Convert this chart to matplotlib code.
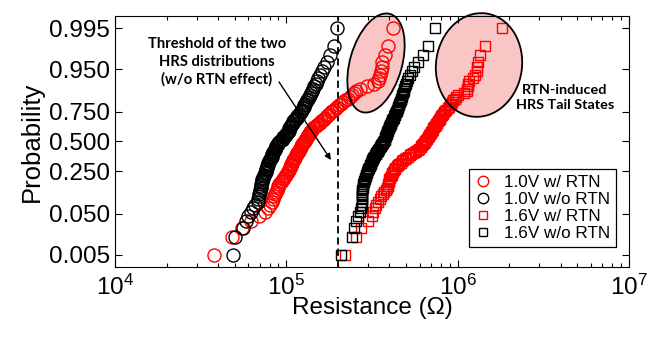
import numpy as np
import matplotlib
matplotlib.use('Agg')
import matplotlib.pyplot as plt
from matplotlib.patches import Ellipse
from statistics import NormalDist

# Resistance values (kOhm), sorted, 100 devices per distribution
r_10_rtn = [38,48,55,62,69,75,78,80,83,84,85,86,87,88,89,90,91,93,94,95,97,98,99,101,102,103,104,105,106,107,
            107,108,109,110,111,112,113,114,115,116,117,118,119,120,121,122,123,124,125,127,128,129,130,132,133,134,
            136,137,138,140,141,143,145,148,151,154,157,160,163,166,169,172,175,178,182,185,189,194,198,204,209,215,
            221,228,235,243,249,256,269,295,326,341,346,353,358,362,363,377,390,420]
r_10_nortn = [49,50,56,58,60,62,64,66,68,68,69,69,70,70,71,71,71,72,72,72,73,74,74,75,76,76,76,77,77,78,78,78,79,
              80,80,81,82,82,83,84,84,85,86,86,87,87,88,89,89,91,92,94,95,96,98,99,100,101,102,103,104,104,105,106,
              107,108,109,110,112,113,115,116,118,119,121,122,123,125,126,127,129,130,132,133,135,137,139,141,143,
              145,148,151,154,158,162,166,172,180,189,198]
r_16_rtn = [221,256,271,301,318,321,329,335,342,350,358,365,373,380,387,390,393,395,398,400,402,406,411,415,419,
            424,428,433,441,449,456,464,472,480,491,502,513,524,536,548,560,572,585,597,607,614,620,627,634,641,648,
            655,662,669,676,682,688,695,702,709,715,722,730,737,744,752,759,767,775,784,793,803,814,825,836,848,860,
            873,886,899,914,929,944,960,977,1003,1096,1137,1140,1144,1148,1171,1230,1258,1289,1305,1318,1351,1437,1816]
r_16_nortn = [209.2,242.0,248.9,255.2,262.3,269.6,273.0,276.0,276.6,276.6,276.6,276.6,276.7,277.8,278.8,279.9,281.3,
              283.2,285.0,286.8,288.7,290.9,293.1,295.2,297.4,299.4,301.6,303.8,305.9,308.0,310.1,312.2,314.3,316.4,
              319.4,322.5,325.5,328.6,331.7,334.8,337.9,341.0,344.2,347.7,351.2,354.7,358.2,361.8,365.4,369.0,372.3,
              374.4,376.5,378.6,380.7,382.8,385.0,387.2,389.4,391.6,393.9,396.1,398.5,400.8,403.2,406.2,409.3,412.4,
              415.6,418.9,422.2,425.7,429.2,432.8,436.5,440.3,443.9,447.0,450.2,453.5,456.9,460.5,464.2,468.1,472.2,
              475.8,479.3,482.9,486.8,491.0,497.0,504.8,513.5,525.0,538.2,557.1,589.9,627.8,668.1,738.0]
series = [r_10_rtn, r_10_nortn, r_16_rtn, r_16_nortn]
labels = ['1.0V w/ RTN', '1.0V w/o RTN', '1.6V w/ RTN', '1.6V w/o RTN']
tick_probs = [0.005, 0.050, 0.250, 0.500, 0.750, 0.950, 0.995]
tick_labels = ['0.005', '0.050', '0.250', '0.500', '0.750', '0.950', '0.995']
threshold = 2e5

nd = NormalDist()

plt.rcParams['font.family'] = ['Liberation Sans', 'DejaVu Sans']
plt.rcParams['mathtext.fontset'] = 'custom'
plt.rcParams['mathtext.rm'] = 'Liberation Sans'
fig = plt.figure(figsize=(6.49, 3.38), dpi=100)
ax = fig.add_axes([115/649, (338-266.7)/338, (629-115)/649, (266.7-16)/338])

styles = [('o', 'red', 9.4), ('o', 'black', 9.4), ('s', 'red', 7.7), ('s', 'black', 7.7)]
for vals, lab, (m, c, ms) in zip(series, labels, styles):
    n = len(vals)
    zq = [nd.inv_cdf((i + 0.5) / n) for i in range(n)]
    ax.plot(np.array(vals) * 1e3, zq, ls='none', marker=m, ms=ms, mfc='none', mec=c, mew=1.0,
            label=lab, zorder=3)

ax.set_xscale('log')
ax.set_xlim(1e4, 1e7)
ax.set_ylim(-2.85, 2.85)
ax.set_yticks([nd.inv_cdf(p) for p in tick_probs])
ax.set_yticklabels(tick_labels)
ax.tick_params(which='both', direction='in', top=True, right=True, labelsize=17.5, width=0.8)
ax.tick_params(which='major', length=5)
ax.tick_params(which='minor', length=3)
ax.tick_params(axis='x', pad=6)
ax.set_xlabel('Resistance (Ω)', fontsize=17.5, labelpad=-2)
ax.set_ylabel('Probability', fontsize=18.5, labelpad=4)
ax.axvline(threshold, color='black', ls='--', lw=1.3, dashes=(4, 2.2), zorder=2)

tr = fig.dpi_scale_trans
for cx, cy, w, h, ang in [(376, 63, 52, 102, -16), (479, 65, 86, 104, -8)]:
    ax.add_patch(Ellipse((cx/100, (338-cy)/100), w/100, h/100, angle=ang, transform=tr,
                         facecolor='#f9c5c5', edgecolor='none', zorder=1, clip_on=False))
    ax.add_patch(Ellipse((cx/100, (338-cy)/100), w/100, h/100, angle=ang, transform=tr,
                         facecolor='none', edgecolor='black', lw=1.3, zorder=5, clip_on=False))

ax.annotate('', xy=(331/649, 1-160/338), xytext=(279/649, 1-82/338), xycoords='figure fraction',
            textcoords='figure fraction',
            arrowprops=dict(arrowstyle='-|>', color='black', lw=1.0, mutation_scale=9, shrinkA=0, shrinkB=0))
fig.text(217/649, 1-62/338, 'Threshold of the two\nHRS distributions\n(w/o RTN effect)', ha='center', va='center',
         fontsize=10.6, fontweight='bold', family=['Lato', 'DejaVu Sans'], linespacing=1.3)
fig.text(565/649, 1-98/338, 'RTN-induced\nHRS Tail States', ha='center', va='center',
         fontsize=10.4, fontweight='bold', family=['Lato', 'DejaVu Sans'], linespacing=1.3)

leg = ax.legend(loc='lower right', bbox_to_anchor=(0.974, 0.077), borderaxespad=0, fontsize=12.3,
                frameon=True, fancybox=False, edgecolor='black', framealpha=1, markerscale=0.8,
                handlelength=1.0, handletextpad=0.7, borderpad=0.35, labelspacing=0.12)
leg.get_frame().set_linewidth(0.9)
fig.savefig('out.png', dpi=100)
